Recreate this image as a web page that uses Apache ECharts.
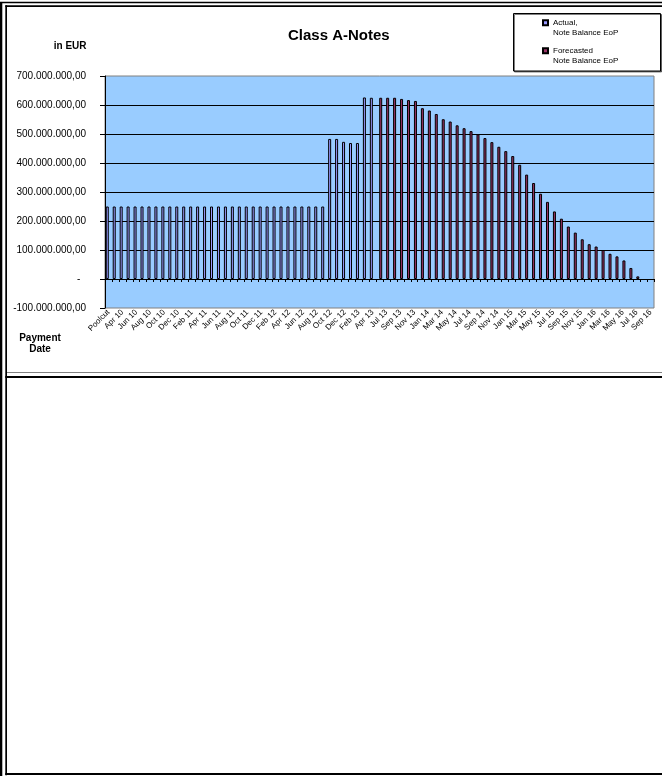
<!DOCTYPE html>
<html><head><meta charset="utf-8">
<script src="https://cdn.jsdelivr.net/npm/echarts@6/dist/echarts.min.js"></script>
<style>html,body{margin:0;padding:0;background:#fff}#c{width:662px;height:776px}</style>
</head><body><div id="c"></div>
<script>
const categories = [
  'Poolcut','Mar 10','Apr 10','May 10','Jun 10','Jul 10','Aug 10','Sep 10','Oct 10','Nov 10','Dec 10',
  'Jan 11','Feb 11','Mar 11','Apr 11','May 11','Jun 11','Jul 11','Aug 11','Sep 11','Oct 11','Nov 11','Dec 11',
  'Jan 12','Feb 12','Mar 12','Apr 12','May 12','Jun 12','Jul 12','Aug 12','Sep 12','Oct 12','Nov 12','Dec 12',
  'Jan 13','Feb 13','Mar 13','Apr 13','Jun 13','Jul 13','Aug 13','Sep 13','Oct 13','Nov 13','Dec 13',
  'Jan 14','Feb 14','Mar 14','Apr 14','May 14','Jun 14','Jul 14','Aug 14','Sep 14','Oct 14','Nov 14','Dec 14',
  'Jan 15','Feb 15','Mar 15','Apr 15','May 15','Jun 15','Jul 15','Aug 15','Sep 15','Oct 15','Nov 15','Dec 15',
  'Jan 16','Feb 16','Mar 16','Apr 16','May 16','Jun 16','Jul 16','Aug 16','Sep 16'
];
// Actual note balance EoP (EUR), categories 0..38
const actualValues = [
  250000000,250000000,250000000,250000000,250000000,250000000,250000000,250000000,
  250000000,250000000,250000000,250000000,250000000,250000000,250000000,250000000,
  250000000,250000000,250000000,250000000,250000000,250000000,250000000,250000000,
  250000000,250000000,250000000,250000000,250000000,250000000,250000000,250000000,
  483000000,483000000,473000000,469000000,469000000,
  626000000,625000000
];
// Forecasted note balance EoP (EUR), categories 39..76
const forecastValues = [
  625000000,625000000,625000000,621000000,617000000,614000000,589000000,581000000,
  569000000,551000000,543000000,530000000,520000000,510000000,499000000,486000000,
  472000000,456000000,441000000,424000000,394000000,360000000,331000000,294000000,
  266000000,233000000,208000000,181000000,160000000,137000000,120000000,112000000,
  100000000,87000000,78000000,64000000,38000000,9000000
];
const yTicks = { min: -100000000, max: 700000000, interval: 100000000 };

const actualData = categories.map((c, i) => i < actualValues.length ? actualValues[i] : null);
const forecastStart = actualValues.length;
const forecastData = categories.map((c, i) => {
  const j = i - forecastStart;
  return (j >= 0 && j < forecastValues.length) ? forecastValues[j] : null;
});

function fmtEUR(v) {
  if (v === 0) return '-  ';
  const neg = v < 0;
  let s = Math.abs(Math.round(v)).toString();
  s = s.replace(/\B(?=(\d{3})+(?!\d))/g, '.');
  return (neg ? '-' : '') + s + ',00';
}

const FONT = 'Liberation Sans, Arial, sans-serif';
const chart = echarts.init(document.getElementById('c'), null, { renderer: 'canvas' });
chart.setOption({
  animation: false,
  backgroundColor: '#fff',
  textStyle: { fontFamily: FONT },
  title: {
    text: 'Class A-Notes', left: 283, top: 23,
    textStyle: { fontFamily: FONT, fontSize: 15, fontWeight: 'bold', color: '#000' }
  },
  legend: {
    data: ['Actual', 'Forecasted'],
    orient: 'vertical', left: 542, top: 7.7, padding: 0,
    itemWidth: 5, itemHeight: 5, itemGap: -2, icon: 'rect', selectedMode: false,
    formatter: n => n === 'Actual' ? ' \nActual,\nNote Balance EoP' : ' \nForecasted\nNote Balance EoP',
    textStyle: { fontFamily: FONT, fontSize: 8, lineHeight: 10, color: '#000' }
  },
  grid: {
    left: 105, right: 8, top: 76, bottom: 468,
    show: true, backgroundColor: '#99CCFF', borderColor: '#808080', borderWidth: 1
  },
  xAxis: {
    type: 'category', data: categories, boundaryGap: true,
    axisLine: { onZero: true, lineStyle: { color: '#000', width: 1 } },
    axisTick: { show: true, interval: 0, length: 3, lineStyle: { color: '#000' } },
    axisLabel: { interval: 1, rotate: 45, fontSize: 8, margin: 3, color: '#000', fontFamily: FONT }
  },
  yAxis: {
    type: 'value', min: yTicks.min, max: yTicks.max, interval: yTicks.interval,
    axisLine: { show: true, lineStyle: { color: '#000', width: 1 } },
    axisTick: { show: true, length: 5, lineStyle: { color: '#000' } },
    axisLabel: { formatter: fmtEUR, fontSize: 10, margin: 19, color: '#000', fontFamily: FONT },
    splitLine: { show: true, showMinLine: false, showMaxLine: false, lineStyle: { color: '#000', width: 1 } }
  },
  series: [
    { name: 'Actual', type: 'bar', data: actualData, barWidth: 3, barGap: '-20%',
      itemStyle: { color: '#9999FF', borderColor: '#000', borderWidth: 1 } },
    { name: 'Forecasted', type: 'bar', data: forecastData, barWidth: 3,
      itemStyle: { color: '#993366', borderColor: '#000', borderWidth: 1 } }
  ],
  graphic: [
    { type: 'rect', shape: { x: 0, y: 2, width: 2.3, height: 774 }, style: { fill: '#000' } },
    { type: 'rect', shape: { x: 0, y: 1.7, width: 662, height: 1.6 }, style: { fill: '#000' } },
    { type: 'rect', shape: { x: 5.3, y: 5.3, width: 1.7, height: 770 }, style: { fill: '#000' } },
    { type: 'rect', shape: { x: 5.3, y: 5.3, width: 657, height: 1.7 }, style: { fill: '#000' } },
    { type: 'rect', shape: { x: 7, y: 372, width: 655, height: 1 }, style: { fill: '#808080' } },
    { type: 'rect', shape: { x: 5.3, y: 376, width: 657, height: 2 }, style: { fill: '#000' } },
    { type: 'rect', shape: { x: 5.3, y: 773, width: 657, height: 2 }, style: { fill: '#000' } },
    { type: 'rect', z: -1, shape: { x: 513.5, y: 13.5, width: 147, height: 57.5 },
      style: { fill: '#fff', stroke: '#000', lineWidth: 1, shadowColor: 'rgba(0,0,0,0.5)', shadowOffsetX: 1, shadowOffsetY: 1 } },
    { type: 'text', style: { text: 'in EUR', x: 86.5, y: 46, align: 'right', verticalAlign: 'middle',
      font: 'bold 10px ' + FONT, fill: '#000' } },
    { type: 'text', style: { text: 'Payment\nDate', x: 40, y: 344, align: 'center', verticalAlign: 'middle',
      font: 'bold 10px ' + FONT, lineHeight: 11, fill: '#000' } }
  ]
});
</script>
</body></html>
